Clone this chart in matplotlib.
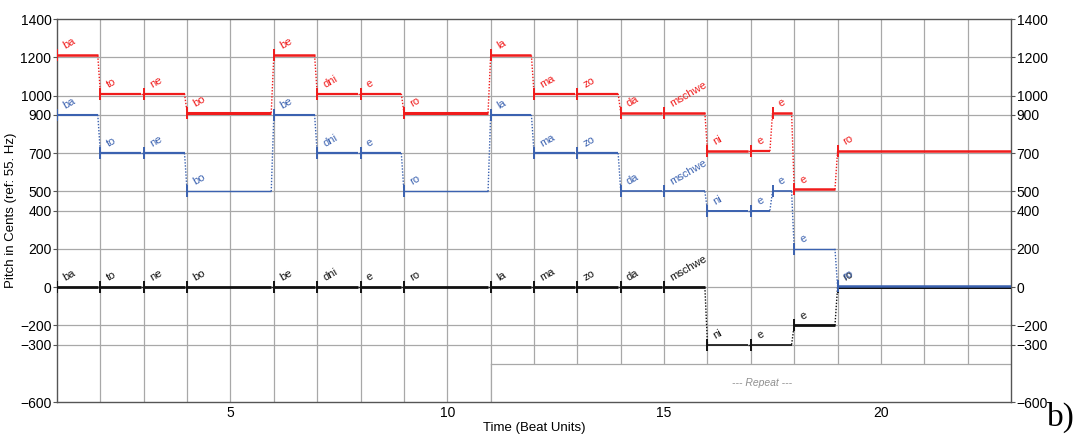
import matplotlib.pyplot as plt
import numpy as np

plt.rcParams['font.family'] = ['Liberation Sans', 'DejaVu Sans']

# ── data ────────────────────────────────────────────────
syll = ['ba', 'to', 'ne', 'bo', 'be', 'dni', 'e', 'ro', 'la', 'ma', 'zo',
        'da', 'mschwe', 'ni', 'e', 'e', 'e', 'ro']
onset = [1, 2, 3, 4, 6, 7, 8, 9, 11, 12, 13, 14, 15, 16, 17, 17.5, 18, 19]
red_pitch = [1210, 1010, 1010, 910, 1210, 1010, 1010, 910, 1210, 1010, 1010,
             910, 910, 710, 710, 910, 510, 710]
blue_pitch = [900, 700, 700, 500, 900, 700, 700, 500, 900, 700, 700,
              500, 500, 400, 400, 500, 200, 5]
red_lw = [1.8, 1.6, 1.6, 2.2, 1.8, 1.6, 1.6, 2.2, 1.8, 1.6, 1.6,
          1.8, 1.8, 1.8, 1.6, 1.8, 1.8, 1.8]
blue_lw = [1.5, 1.6, 1.6, 1.0, 1.5, 1.6, 1.6, 1.0, 1.5, 1.6, 1.6,
           1.2, 1.2, 1.4, 1.4, 1.2, 1.0, 1.8]

# black voice: no split at 17.5
blk_syll = ['ba', 'to', 'ne', 'bo', 'be', 'dni', 'e', 'ro', 'la', 'ma', 'zo',
            'da', 'mschwe', 'ni', 'e', 'e', 'ro']
blk_onset = [1, 2, 3, 4, 6, 7, 8, 9, 11, 12, 13, 14, 15, 16, 17, 18, 19]
blk_pitch = [0, 0, 0, 0, 0, 0, 0, 0, 0, 0, 0, 0, 0, -300, -300, -200, 0]
blk_lw = [2, 2, 2, 2, 2, 2, 2, 2, 2, 2, 2, 2, 2, 1.2, 1.2, 2, 2.2]

t_end = 23
yticks = [1400, 1200, 1000, 900, 700, 500, 400, 200, 0, -200, -300, -600]

RED = '#f01c1c'
BLUE = '#3b62b0'
BLACK = '#111111'
GRID = '#a8a8a8'


def draw_voice(ax, on, pitch, names, lws, col, z):
    nxt = list(on[1:]) + [t_end]
    for i in range(len(on)):
        end = nxt[i] - 0.06 if i < len(on) - 1 else t_end
        ax.plot([on[i], end], [pitch[i], pitch[i]], color=col, lw=lws[i],
                solid_capstyle='butt', zorder=z)
        ax.plot([on[i]], [pitch[i]], marker='|', ms=8, mew=1.4, color=col, zorder=z)
        if i < len(on) - 1:
            ax.plot([end, nxt[i]], [pitch[i], pitch[i + 1]], color=col, lw=1.0,
                    ls=(0, (1, 1.2)), zorder=z)
        ax.annotate(names[i], (on[i], pitch[i]), xytext=(3, 3),
                    textcoords='offset points', ha='left', va='bottom',
                    rotation=30, fontsize=8, color=col, zorder=z)


fig = plt.figure(figsize=(10.82, 4.34), dpi=100)
ax = fig.add_axes([0.0527, 0.0737, 0.8817, 0.8825])
ax.set_xlim(1, t_end)
ax.set_ylim(-600, 1400)

# grid
for x in range(2, t_end):
    ax.axvline(x, color=GRID, lw=0.9, zorder=1)
for y in yticks[1:-1]:
    ax.axhline(y, color=GRID, lw=0.9, zorder=1)

# repeat box
ax.fill_between([11, t_end], -600, -400, color='white', lw=0, zorder=1.5)
ax.plot([11, t_end], [-400, -400], color=GRID, lw=0.9, zorder=2)
ax.plot([11, 11], [-600, -400], color=GRID, lw=0.9, zorder=2)
ax.text(17.25, -500, '--- Repeat ---', fontsize=7.5, style='italic',
        color='#909090', ha='center', va='center', zorder=2)

draw_voice(ax, blk_onset, blk_pitch, blk_syll, blk_lw, BLACK, 3)
draw_voice(ax, onset, blue_pitch, syll, blue_lw, BLUE, 4)
draw_voice(ax, onset, red_pitch, syll, red_lw, RED, 5)

ax.set_yticks(yticks)
ax.set_xticks([5, 10, 15, 20])
ax.tick_params(axis='y', direction='out', length=3, width=0.8, color='#555555',
               labelsize=10, pad=1, right=True, labelright=True)
ax.tick_params(axis='x', length=0, labelsize=10, pad=3)
for s in ax.spines.values():
    s.set_color('#555555')
    s.set_linewidth(1.0)

ax.set_xlabel('Time (Beat Units)', fontsize=9.5, labelpad=1)
ax.set_ylabel('Pitch in Cents (ref: 55. Hz)', fontsize=9.5, labelpad=2)

fig.text(0.968, 0.02, 'b)', fontsize=24, family='Liberation Serif',
         ha='left', va='baseline')

plt.savefig('out.png', dpi=100)
plt.close()
